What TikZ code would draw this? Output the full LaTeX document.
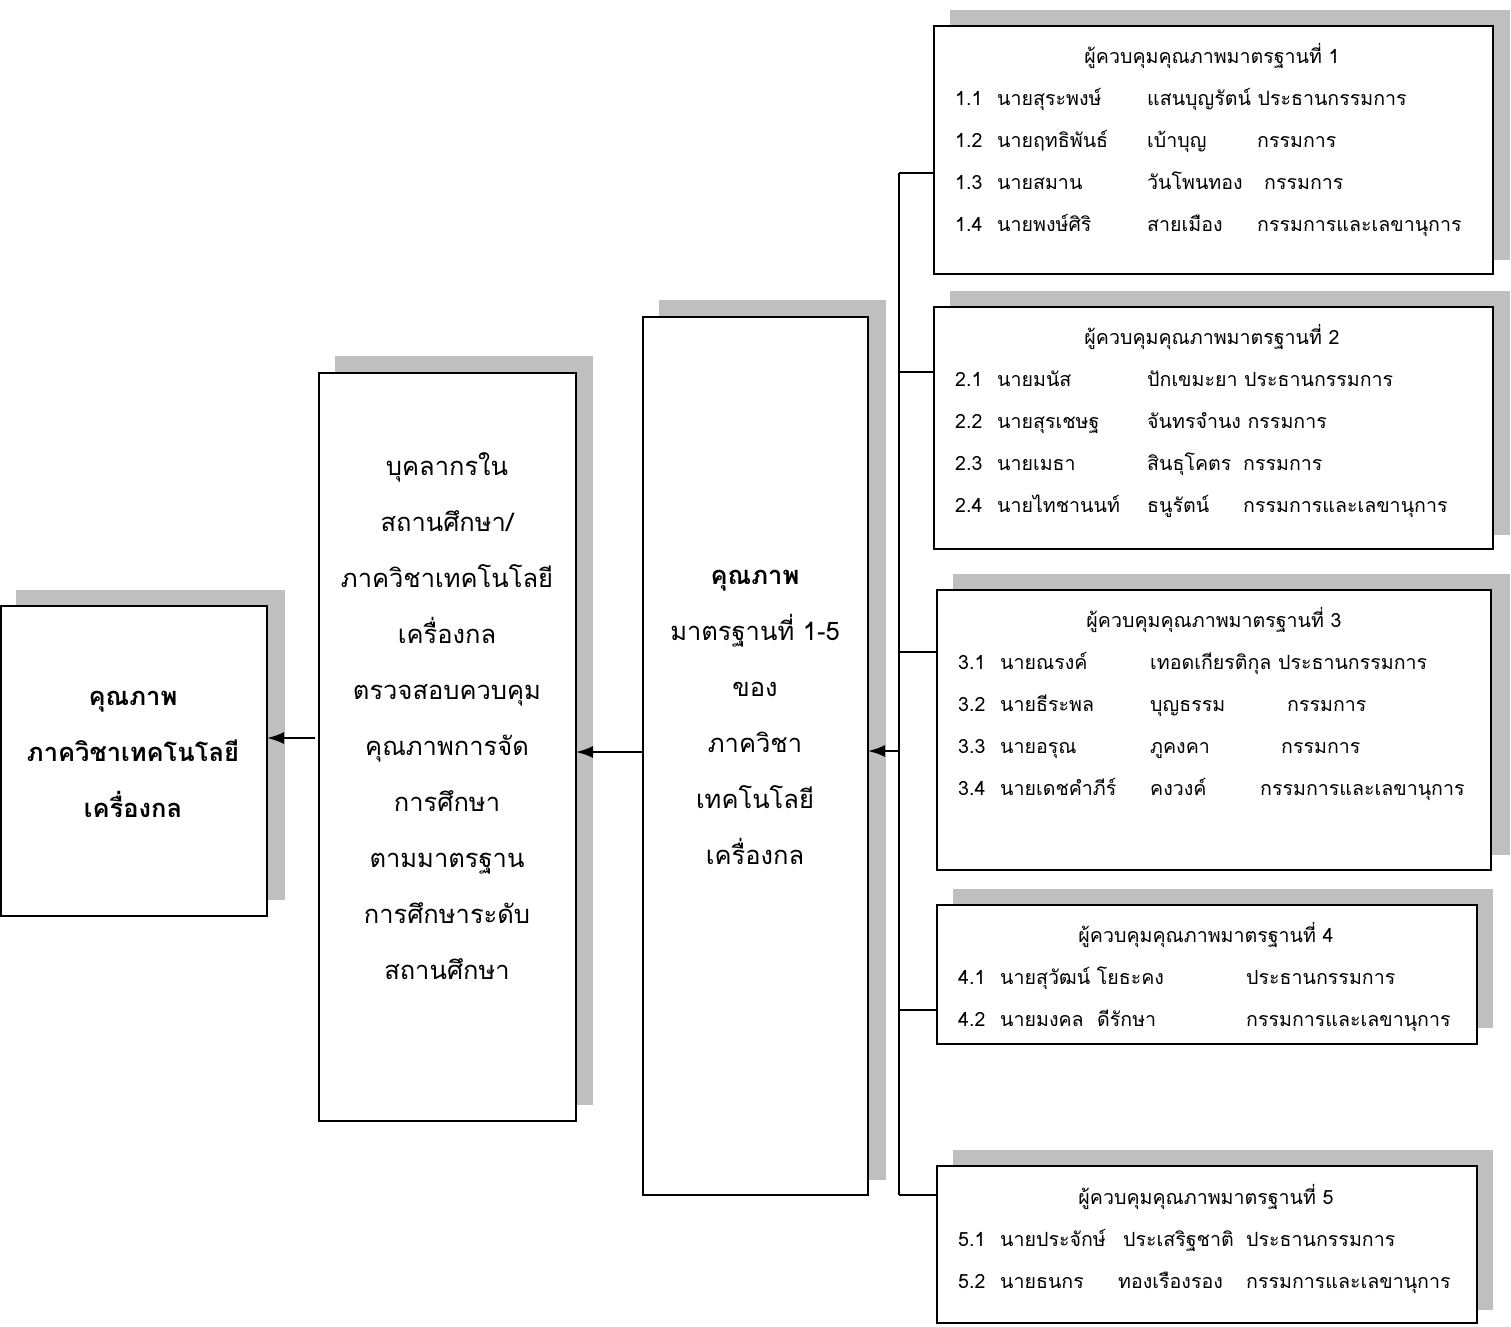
\documentclass[tikz,border=0pt]{standalone}
\usepackage{fontspec}
\newfontfamily\thai[Script=Thai]{Loma}
\usetikzlibrary{arrows.meta}
\definecolor{shadowgray}{HTML}{BFBFBF}
\begin{document}
\begin{tikzpicture}[x=1pt,y=-1pt,
  box/.style={draw=black,line width=2pt,fill=white,inner sep=0pt,outer sep=0pt},
  shadowbox/.style={fill=shadowgray,draw=none},
  conn/.style={line width=2pt},
  arr/.style={line width=2pt,-{Latex[length=17pt,width=12pt]}},
  big/.style={font=\thai\fontsize{25.5}{56}\selectfont,align=center,inner sep=0pt},
  bigb/.style={font=\thai\bfseries\fontsize{25.5}{56}\selectfont,align=center,inner sep=0pt},
  row/.style={font=\thai\fontsize{19.6}{42}\selectfont,anchor=base west,inner sep=0pt},
  head/.style={font=\thai\fontsize{19.6}{42}\selectfont,anchor=base,inner sep=0pt}]
\useasboundingbox (0,0) rectangle (1511,1326);
% shadows
\path[shadowbox] (16,590) rectangle (285,900);
\path[shadowbox] (335,356) rectangle (593,1105);
\path[shadowbox] (659,300) rectangle (886,1180);
\path[shadowbox] (950,10) rectangle (1510,260);
\path[shadowbox] (950,291) rectangle (1510,535);
\path[shadowbox] (953,574) rectangle (1510,855);
\path[shadowbox] (953,889) rectangle (1493,1028);
\path[shadowbox] (953,1150) rectangle (1493,1310);
% boxes
\node[box,minimum width=266pt,minimum height=310pt] (boxA) at (134,761) {};
\node[box,minimum width=257pt,minimum height=748pt] (boxB) at (447.5,747) {};
\node[box,minimum width=225pt,minimum height=878pt] (boxC) at (755.5,756) {};
\node[box,minimum width=559pt,minimum height=248pt] (box1) at (1213.5,150) {};
\node[box,minimum width=559pt,minimum height=242pt] (box2) at (1213.5,428) {};
\node[box,minimum width=554pt,minimum height=280pt] (box3) at (1214,730) {};
\node[box,minimum width=540pt,minimum height=139pt] (box4) at (1207,974.5) {};
\node[box,minimum width=540pt,minimum height=157pt] (box5) at (1207,1244.5) {};
% big texts
\node[bigb] (tA) at (133,754) {คุณภาพ\\ภาควิชาเทคโนโลยี\\เครื่องกล};
\node[big] (tB) at (447,716) {บุคลากรใน\\สถานศึกษา/\\ภาควิชาเทคโนโลยี\\เครื่องกล\\ตรวจสอบควบคุม\\คุณภาพการจัด\\การศึกษา\\ตามมาตรฐาน\\การศึกษาระดับ\\สถานศึกษา};
\node[big] (tC) at (755,717) {\textbf{คุณภาพ}\\มาตรฐานที่ 1-5\\ของ\\ภาควิชา\\เทคโนโลยี\\เครื่องกล};
% box 1
\node[head] (h1) at (1212,63) {ผู้ควบคุมคุณภาพมาตรฐานที่ 1};
\node[row] (n11) at (955,105) {1.1};
\node[row] (m11) at (997,105) {นายสุระพงษ์};
\node[row] (s11) at (1147,105) {แสนบุญรัตน์ ประธานกรรมการ};
\node[row] (n12) at (955,147) {1.2};
\node[row] (m12) at (997,147) {นายฤทธิพันธ์};
\node[row] (s12) at (1147,147) {เบ้าบุญ};
\node[row] (r12) at (1257,147) {กรรมการ};
\node[row] (n13) at (955,189) {1.3};
\node[row] (m13) at (997,189) {นายสมาน};
\node[row] (s13) at (1147,189) {วันโพนทอง};
\node[row] (r13) at (1264,189) {กรรมการ};
\node[row] (n14) at (955,231) {1.4};
\node[row] (m14) at (997,231) {นายพงษ์ศิริ};
\node[row] (s14) at (1147,231) {สายเมือง};
\node[row] (r14) at (1257,231) {กรรมการและเลขานุการ};
% box 2
\node[head] (h2) at (1212,344) {ผู้ควบคุมคุณภาพมาตรฐานที่ 2};
\node[row] (n21) at (955,386) {2.1};
\node[row] (m21) at (997,386) {นายมนัส};
\node[row] (s21) at (1147,386) {ปักเขมะยา ประธานกรรมการ};
\node[row] (n22) at (955,428) {2.2};
\node[row] (m22) at (997,428) {นายสุรเชษฐ};
\node[row] (s22) at (1147,428) {จันทรจำนง กรรมการ};
\node[row] (n23) at (955,470) {2.3};
\node[row] (m23) at (997,470) {นายเมธา};
\node[row] (s23) at (1147,470) {สินธุโคตร};
\node[row] (r23) at (1243,470) {กรรมการ};
\node[row] (n24) at (955,512) {2.4};
\node[row] (m24) at (997,512) {นายไทชานนท์};
\node[row] (s24) at (1147,512) {ธนูรัตน์};
\node[row] (r24) at (1243,512) {กรรมการและเลขานุการ};
% box 3
\node[head] (h3) at (1214,627) {ผู้ควบคุมคุณภาพมาตรฐานที่ 3};
\node[row] (n31) at (958,669) {3.1};
\node[row] (m31) at (1000,669) {นายณรงค์};
\node[row] (s31) at (1150,669) {เทอดเกียรติกุล ประธานกรรมการ};
\node[row] (n32) at (958,711) {3.2};
\node[row] (m32) at (1000,711) {นายธีระพล};
\node[row] (s32) at (1150,711) {บุญธรรม};
\node[row] (r32) at (1287,711) {กรรมการ};
\node[row] (n33) at (958,753) {3.3};
\node[row] (m33) at (1000,753) {นายอรุณ};
\node[row] (s33) at (1150,753) {ภูคงคา};
\node[row] (r33) at (1281,753) {กรรมการ};
\node[row] (n34) at (958,795) {3.4};
\node[row] (m34) at (1000,795) {นายเดชคำภีร์};
\node[row] (s34) at (1150,795) {คงวงค์};
\node[row] (r34) at (1260,795) {กรรมการและเลขานุการ};
% box 4
\node[head] (h4) at (1206,942) {ผู้ควบคุมคุณภาพมาตรฐานที่ 4};
\node[row] (n41) at (958,984) {4.1};
\node[row] (m41) at (1000,984) {นายสุวัฒน์ โยธะคง};
\node[row] (r41) at (1246,984) {ประธานกรรมการ};
\node[row] (n42) at (958,1026) {4.2};
\node[row] (m42) at (1000,1026) {นายมงคล};
\node[row] (s42) at (1097,1026) {ดีรักษา};
\node[row] (r42) at (1246,1026) {กรรมการและเลขานุการ};
% box 5
\node[head] (h5) at (1206,1204) {ผู้ควบคุมคุณภาพมาตรฐานที่ 5};
\node[row] (n51) at (958,1246) {5.1};
\node[row] (m51) at (1000,1246) {นายประจักษ์};
\node[row] (s51) at (1123,1246) {ประเสริฐชาติ};
\node[row] (r51) at (1246,1246) {ประธานกรรมการ};
\node[row] (n52) at (958,1288) {5.2};
\node[row] (m52) at (1000,1288) {นายธนกร};
\node[row] (s52) at (1118,1288) {ทองเรืองรอง};
\node[row] (r52) at (1246,1288) {กรรมการและเลขานุการ};
% connectors
\coordinate (t1) at (899,173);
\coordinate (t2) at (899,372);
\coordinate (t3) at (899,652);
\coordinate (tm) at (899,751);
\coordinate (t4) at (899,1010);
\coordinate (t5) at (899,1195);
\draw[conn] (t1) -- (t5);
\draw[conn] (t1) -- (t1 -| box1.west);
\draw[conn] (t2) -- (t2 -| box2.west);
\draw[conn] (t3) -- (t3 -| box3.west);
\draw[conn] (t4) -- (t4 -| box4.west);
\draw[conn] (t5) -- (t5 -| box5.west);
\draw[arr] (tm) -- (tm -| boxC.east);
\coordinate (cb) at (643,752);
\draw[arr] (cb -| boxC.west) -- (cb -| boxB.east);
\coordinate (ba) at (315,738);
\draw[arr] (ba) -- (ba -| boxA.east);
\end{tikzpicture}
\end{document}
